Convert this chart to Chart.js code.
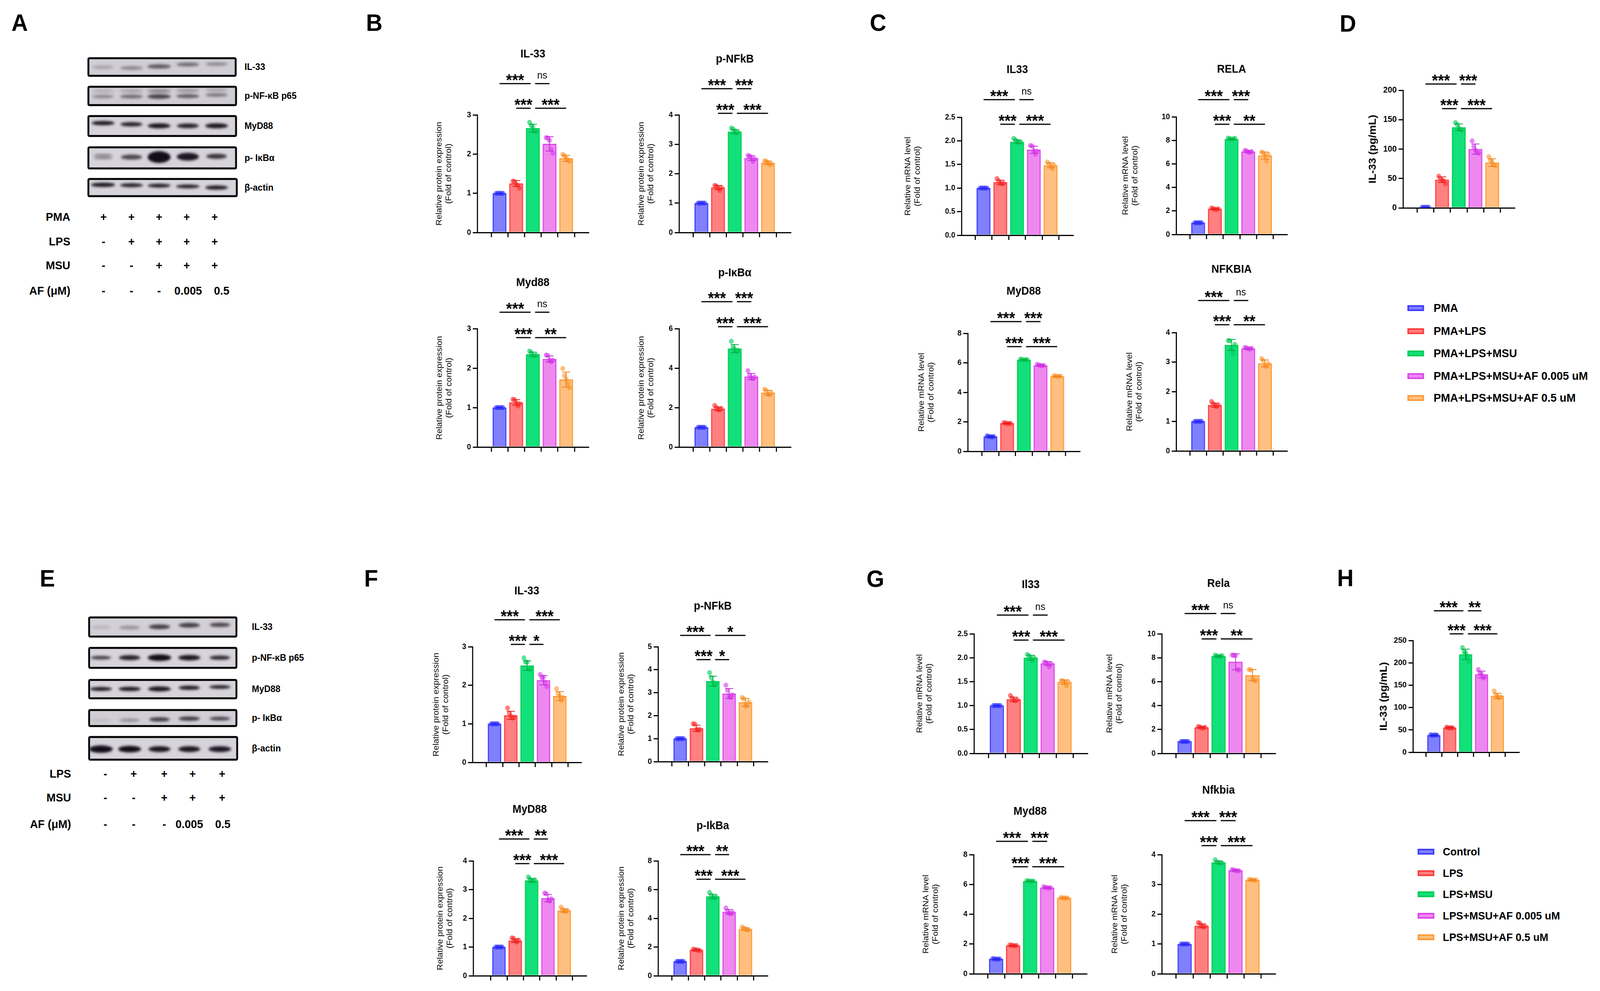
<!DOCTYPE html>
<html><head><meta charset="utf-8">
<script src="https://cdn.jsdelivr.net/npm/chart.js@4.4.1/dist/chart.umd.min.js"></script>
<style>
html,body{margin:0;padding:0;background:#fff;overflow:hidden;}
#root{position:absolute;left:0;top:0;width:4345px;height:2536px;overflow:hidden;background:#fff;font-family:"Liberation Sans",Arial,Helvetica,sans-serif;transform-origin:0 0;}
.t{position:absolute;white-space:nowrap;color:#000;line-height:1;}
canvas{position:absolute;}
.sw{position:absolute;box-sizing:border-box;width:45px;height:15px;border:4px solid;}
</style></head><body><div id="root"></div>
<script>
// ---------------- DATA ----------------
const GROUPS_TOP = ['PMA','PMA+LPS','PMA+LPS+MSU','PMA+LPS+MSU+AF 0.005 uM','PMA+LPS+MSU+AF 0.5 uM'];
const GROUPS_BOTTOM = ['Control','LPS','LPS+MSU','LPS+MSU+AF 0.005 uM','LPS+MSU+AF 0.5 uM'];

// Panel B (protein, PMA cells)
const B_IL33_bars = [1.0, 1.25, 2.66, 2.26, 1.89];
const B_IL33_pts = [[1,1,1,1,1],[1.31,1.30,1.23,1.20,1.13],[2.81,2.73,2.69,2.59,2.57],[2.42,2.41,2.35,2.12,2.02],[1.99,1.96,1.89,1.85,1.81]];
const B_IL33_ticks = [0,1,2,3];
const B_IL33_sig = [[0,2,'***',0],[2,3,'ns',0],[1,2,'***',1],[2,4,'***',1]];

const B_NFKB_bars = [1.0, 1.53, 3.43, 2.53, 2.37];
const B_NFKB_pts = [[1,1,1,1,1],[1.60,1.58,1.51,1.43,1.53],[3.55,3.52,3.45,3.38,3.42],[2.62,2.60,2.55,2.42,2.50],[2.44,2.42,2.38,2.30,2.33]];
const B_NFKB_ticks = [0,1,2,3,4];
const B_NFKB_sig = [[0,2,'***',0],[2,3,'***',0],[1,2,'***',1],[2,4,'***',1]];

const B_MYD_bars = [1.0, 1.13, 2.35, 2.23, 1.71];
const B_MYD_pts = [[1,1,1,1,1],[1.21,1.20,1.12,1.04,1.10],[2.43,2.40,2.32,2.31,2.33],[2.33,2.32,2.20,2.16,2.20],[1.99,1.81,1.72,1.60,1.50]];
const B_MYD_ticks = [0,1,2,3];
const B_MYD_sig = [[0,2,'***',0],[2,3,'ns',0],[1,2,'***',1],[2,4,'**',1]];

const B_IKB_bars = [1.0, 1.94, 4.99, 3.57, 2.75];
const B_IKB_pts = [[1,1,1,1,1],[2.11,2.00,1.90,1.88,1.95],[5.36,5.06,4.96,4.84,4.90],[3.87,3.62,3.50,3.47,3.55],[2.93,2.86,2.68,2.65,2.75]];
const B_IKB_ticks = [0,2,4,6];
const B_IKB_sig = [[0,2,'***',0],[2,3,'***',0],[1,2,'***',1],[2,4,'***',1]];

// Panel C (mRNA, PMA cells)
const C_IL33_bars = [1.0, 1.12, 1.98, 1.81, 1.48];
const C_IL33_pts = [[1,1,1,1,1],[1.20,1.15,1.10,1.09,1.10],[2.05,2.02,1.99,1.96,1.98],[1.90,1.89,1.79,1.72,1.78],[1.55,1.51,1.46,1.41,1.48]];
const C_IL33_ticks = [0,0.5,1.0,1.5,2.0,2.5];
const C_IL33_sig = [[0,2,'***',0],[2,3,'ns',0],[1,2,'***',1],[2,4,'***',1]];

const C_RELA_bars = [1.0, 2.17, 8.10, 7.05, 6.70];
const C_RELA_pts = [[1,1,1,1,1],[2.25,2.20,2.15,2.12,2.18],[8.20,8.15,8.10,8.12,8.18],[7.15,7.10,7.00,6.98,7.05],[7.00,6.95,6.70,6.25,6.80]];
const C_RELA_ticks = [0,2,4,6,8,10];
const C_RELA_sig = [[0,2,'***',0],[2,3,'***',0],[1,2,'***',1],[2,4,'**',1]];

const C_MYD_bars = [1.0, 1.90, 6.20, 5.82, 5.08];
const C_MYD_pts = [[1.05,1.0,1.0,0.98,1.0],[1.95,1.92,1.90,1.88,1.90],[6.25,6.22,6.20,6.20,6.22],[5.90,5.85,5.82,5.80,5.82],[5.12,5.10,5.08,5.08,5.10]];
const C_MYD_ticks = [0,2,4,6,8];
const C_MYD_sig = [[0,2,'***',0],[2,3,'***',0],[1,2,'***',1],[2,4,'***',1]];

const C_NFKBIA_bars = [1.0, 1.55, 3.58, 3.46, 2.96];
const C_NFKBIA_pts = [[1,1,1,1,1],[1.67,1.60,1.53,1.50,1.55],[3.73,3.72,3.45,3.30,3.60],[3.50,3.48,3.46,3.44,3.47],[3.12,3.05,2.88,2.85,2.95]];
const C_NFKBIA_ticks = [0,1,2,3,4];
const C_NFKBIA_sig = [[0,2,'***',0],[2,3,'ns',0],[1,2,'***',1],[2,4,'**',1]];

// Panel D (ELISA, PMA cells)
const D_bars = [1, 48, 137, 100, 77];
const D_pts = [[1,1,1,1,1],[54,50,47,46,41],[145,142,136,133,132],[114,104,98,94,93],[87,81,78,73,71]];
const D_ticks = [0,50,100,150,200];
const D_sig = [[0,2,'***',0],[2,3,'***',0],[1,2,'***',1],[2,4,'***',1]];

// Panel F (protein, second cell model)
const F_IL33_bars = [1.0, 1.22, 2.51, 2.13, 1.72];
const F_IL33_pts = [[1,1,1,1,1],[1.41,1.28,1.20,1.15,1.17],[2.71,2.60,2.60,2.44,2.42],[2.28,2.19,2.21,2.08,1.97],[1.91,1.78,1.72,1.61,1.68]];
const F_IL33_ticks = [0,1,2,3];
const F_IL33_sig = [[0,2,'***',0],[2,4,'***',0],[1,2,'***',1],[2,3,'*',1]];

const F_NFKB_bars = [1.0, 1.45, 3.50, 2.96, 2.58];
const F_NFKB_pts = [[1,1,1,1,1],[1.65,1.63,1.40,1.37,1.40],[3.87,3.66,3.47,3.34,3.40],[3.33,3.10,2.85,2.80,2.90],[2.79,2.73,2.43,2.42,2.60]];
const F_NFKB_ticks = [0,1,2,3,4,5];
const F_NFKB_sig = [[0,2,'***',0],[2,4,'*',0],[1,2,'***',1],[2,3,'*',1]];

const F_MYD_bars = [1.0, 1.22, 3.32, 2.70, 2.27];
const F_MYD_pts = [[1,1,1,1,1],[1.32,1.30,1.22,1.17,1.24],[3.44,3.37,3.32,3.29,3.34],[2.88,2.85,2.64,2.60,2.68],[2.39,2.31,2.26,2.24,2.27]];
const F_MYD_ticks = [0,1,2,3,4];
const F_MYD_sig = [[0,2,'***',0],[2,3,'**',0],[1,2,'***',1],[2,4,'***',1]];

const F_IKB_bars = [1.0, 1.80, 5.52, 4.45, 3.25];
const F_IKB_pts = [[1,1,1,1,1],[1.85,1.82,1.80,1.78,1.75],[5.80,5.60,5.45,5.42,5.50],[4.72,4.50,4.35,4.32,4.40],[3.40,3.30,3.25,3.20,3.20]];
const F_IKB_ticks = [0,2,4,6,8];
const F_IKB_sig = [[0,2,'***',0],[2,3,'**',0],[1,2,'***',1],[2,4,'***',1]];

// Panel G (mRNA, second cell model)
const G_IL33_bars = [1.0, 1.13, 2.00, 1.88, 1.49];
const G_IL33_pts = [[1,1,1,1,1],[1.21,1.16,1.11,1.10,1.12],[2.07,2.04,1.99,1.94,2.00],[1.91,1.90,1.87,1.81,1.88],[1.52,1.52,1.49,1.41,1.50]];
const G_IL33_ticks = [0,0.5,1.0,1.5,2.0,2.5];
const G_IL33_sig = [[0,2,'***',0],[2,3,'ns',0],[1,2,'***',1],[2,4,'***',1]];

const G_RELA_bars = [1.0, 2.17, 8.13, 7.66, 6.54];
const G_RELA_pts = [[1,1,1,1,1],[2.25,2.20,2.15,2.12,2.18],[8.22,8.15,8.10,8.12,8.18],[8.22,8.20,8.18,7.00,6.98],[7.02,6.98,6.30,6.07,6.10]];
const G_RELA_ticks = [0,2,4,6,8,10];
const G_RELA_sig = [[0,2,'***',0],[2,3,'ns',0],[1,2,'***',1],[2,4,'**',1]];

const G_MYD_bars = [1.0, 1.90, 6.22, 5.78, 5.09];
const G_MYD_pts = [[1.02,1.0,1.0,0.98,1.0],[1.94,1.92,1.90,1.88,1.90],[6.25,6.23,6.22,6.21,6.22],[5.85,5.80,5.78,5.76,5.78],[5.11,5.10,5.09,5.08,5.09]];
const G_MYD_ticks = [0,2,4,6,8];
const G_MYD_sig = [[0,2,'***',0],[2,3,'***',0],[1,2,'***',1],[2,4,'***',1]];

const G_NFKBIA_bars = [1.0, 1.61, 3.74, 3.47, 3.15];
const G_NFKBIA_pts = [[1,1,1,1,1],[1.72,1.70,1.62,1.57,1.60],[3.83,3.74,3.73,3.72,3.72],[3.50,3.48,3.47,3.45,3.46],[3.17,3.16,3.15,3.14,3.15]];
const G_NFKBIA_ticks = [0,1,2,3,4];
const G_NFKBIA_sig = [[0,2,'***',0],[2,3,'***',0],[1,2,'***',1],[2,4,'***',1]];

// Panel H (ELISA, second cell model)
const H_bars = [38, 55, 219, 174, 126];
const H_pts = [[39,38,38,39,38],[56,55,54,55,54],[234,225,222,215,203],[185,176,175,166,168],[137,128,124,122,124]];
const H_ticks = [0,50,100,150,200,250];
const H_sig = [[0,2,'***',0],[2,3,'**',0],[1,2,'***',1],[2,4,'***',1]];

// Western blot treatment tables
const A_ROWS = [['PMA',['+','+','+','+','+']],['LPS',['-','+','+','+','+']],['MSU',['-','-','+','+','+']],['AF (μM)',['-','-','-','0.005','0.5']]];
const E_ROWS = [['LPS',['-','+','+','+','+']],['MSU',['-','-','+','+','+']],['AF (μM)',['-','-','-','0.005','0.5']]];
const BLOT_LABELS = ['IL-33','p-NF-κB p65','MyD88','p- IκBα','β-actin'];
// band intensities per lane
const A_BAND = [[0.22,0.35,0.6,0.5,0.35],[0.35,0.5,0.72,0.6,0.45],[0.95,0.9,0.95,0.9,0.95],[0.35,0.7,1,0.95,0.8],[0.95,0.92,0.92,0.9,0.92]];
const E_BAND = [[0.12,0.3,0.75,0.75,0.7],[0.75,0.9,1,0.95,0.85],[0.95,0.95,0.95,0.92,0.92],[0.08,0.3,0.75,0.75,0.7],[1,1,0.95,0.95,0.95]];

// ---------------- STYLE ----------------
const FILL = ['#8080ff','#ff8080','#12e07a','#ee88ee','#ffbf80'];
const LINE = ['#3c3cff','#ff3c3c','#00cc55','#dc46ec','#ff9a33'];
const DOT  = ['rgba(50,50,255,0.62)','rgba(255,45,45,0.62)','rgba(0,205,85,0.62)','rgba(218,60,236,0.62)','rgba(255,150,45,0.62)'];
const ERR  = ['#2020e0','#e02020','#00a844','#c030d8','#e88020'];
const JIT = [-0.2,-0.1,0,0.1,0.2];
const FONT = '"Liberation Sans", Arial, Helvetica, sans-serif';
Chart.defaults.font.family = FONT;

const root = document.getElementById('root');
const PROT = ['Relative protein expression','(Fold of control)'];
const MRNA = ['Relative mRNA level','(Fold of control)'];

const LAYOUTS = {
 b1:{title:'IL-33', bars:B_IL33_bars, pts:B_IL33_pts, ticks:B_IL33_ticks, sig:B_IL33_sig, yTitle:PROT, ax:1296, c0:1334, sp:56.5, xEnd:1598, zeroY:595, topY:294, titleY:139, sigY:[214,277], ytX:1193},
 b2:{title:'p-NFkB', bars:B_NFKB_bars, pts:B_NFKB_pts, ticks:B_NFKB_ticks, sig:B_NFKB_sig, yTitle:PROT, ax:1844, c0:1882, sp:56.5, xEnd:2147, zeroY:595, topY:294, titleY:152, sigY:[227,290], ytX:1742},
 b3:{title:'Myd88', bars:B_MYD_bars, pts:B_MYD_pts, ticks:B_MYD_ticks, sig:B_MYD_sig, yTitle:PROT, ax:1296, c0:1334, sp:56.5, xEnd:1598, zeroY:1144, topY:841, titleY:724, sigY:[799,864], ytX:1194},
 b4:{title:'p-IκBα', bars:B_IKB_bars, pts:B_IKB_pts, ticks:B_IKB_ticks, sig:B_IKB_sig, yTitle:PROT, ax:1844, c0:1882, sp:56.5, xEnd:2147, zeroY:1144, topY:841, titleY:699, sigY:[772,836], ytX:1742},
 c1:{title:'IL33', bars:C_IL33_bars, pts:C_IL33_pts, ticks:C_IL33_ticks, sig:C_IL33_sig, dec:1, yTitle:MRNA, ax:2611, c0:2648, sp:56.9, xEnd:2914, zeroY:602, topY:300, titleY:179, sigY:[255,318], ytX:2466},
 c2:{title:'RELA', bars:C_RELA_bars, pts:C_RELA_pts, ticks:C_RELA_ticks, sig:C_RELA_sig, yTitle:MRNA, ax:3194, c0:3231, sp:56.7, xEnd:3495, zeroY:600, topY:299, titleY:178, sigY:[255,318], ytX:3057},
 c3:{title:'MyD88', bars:C_MYD_bars, pts:C_MYD_pts, ticks:C_MYD_ticks, sig:C_MYD_sig, yTitle:MRNA, ax:2628, c0:2667, sp:56.7, xEnd:2932, zeroY:1155, topY:853, titleY:746, sigY:[823,887], ytX:2503},
 c4:{title:'NFKBIA', bars:C_NFKBIA_bars, pts:C_NFKBIA_pts, ticks:C_NFKBIA_ticks, sig:C_NFKBIA_sig, yTitle:MRNA, ax:3194, c0:3231, sp:56.7, xEnd:3495, zeroY:1154, topY:851, titleY:690, sigY:[769,831], ytX:3068},
 d:{title:'', bars:D_bars, pts:D_pts, ticks:D_ticks, sig:D_sig, yTitle:['IL-33 (pg/mL)'], ytBold:true, tickSize:22, ax:3810, c0:3848, sp:56.7, xEnd:4113, zeroY:532, topY:231, titleY:null, sigY:[215,278], ytX:3728},
 f1:{title:'IL-33', bars:F_IL33_bars, pts:F_IL33_pts, ticks:F_IL33_ticks, sig:F_IL33_sig, yTitle:PROT, ax:1283, c0:1321, sp:55.4, xEnd:1578, zeroY:1951, topY:1655, titleY:1513, sigY:[1586,1649], ytX:1185},
 f2:{title:'p-NFkB', bars:F_NFKB_bars, pts:F_NFKB_pts, ticks:F_NFKB_ticks, sig:F_NFKB_sig, yTitle:PROT, ax:1787, c0:1825, sp:55.4, xEnd:2084, zeroY:1949, topY:1655, titleY:1552, sigY:[1626,1688], ytX:1688},
 f3:{title:'MyD88', bars:F_MYD_bars, pts:F_MYD_pts, ticks:F_MYD_ticks, sig:F_MYD_sig, yTitle:PROT, ax:1285, c0:1334, sp:55.4, xEnd:1592, zeroY:2497, topY:2203, titleY:2072, sigY:[2147,2210], ytX:1196},
 f4:{title:'p-IkBa', bars:F_IKB_bars, pts:F_IKB_pts, ticks:F_IKB_ticks, sig:F_IKB_sig, yTitle:PROT, ax:1787, c0:1825, sp:55.4, xEnd:2084, zeroY:2497, topY:2203, titleY:2114, sigY:[2187,2250], ytX:1688},
 g1:{title:'Il33', bars:G_IL33_bars, pts:G_IL33_pts, ticks:G_IL33_ticks, sig:G_IL33_sig, dec:1, yTitle:MRNA, ax:2645, c0:2684, sp:57.5, xEnd:2953, zeroY:1928, topY:1622, titleY:1497, sigY:[1574,1638], ytX:2498},
 g2:{title:'Rela', bars:G_RELA_bars, pts:G_RELA_pts, ticks:G_RELA_ticks, sig:G_RELA_sig, yTitle:MRNA, ax:3155, c0:3194, sp:57.6, xEnd:3463, zeroY:1928, topY:1622, titleY:1494, sigY:[1570,1635], ytX:3014},
 g3:{title:'Myd88', bars:G_MYD_bars, pts:G_MYD_pts, ticks:G_MYD_ticks, sig:G_MYD_sig, yTitle:MRNA, ax:2644, c0:2682, sp:57.7, xEnd:2951, zeroY:2492, topY:2187, titleY:2077, sigY:[2153,2218], ytX:2515},
 g4:{title:'Nfkbia', bars:G_NFKBIA_bars, pts:G_NFKBIA_pts, ticks:G_NFKBIA_ticks, sig:G_NFKBIA_sig, yTitle:MRNA, ax:3155, c0:3194, sp:57.6, xEnd:3463, zeroY:2492, topY:2187, titleY:2023, sigY:[2100,2164], ytX:3028},
 h:{title:'', bars:H_bars, pts:H_pts, ticks:H_ticks, sig:H_sig, yTitle:['IL-33 (pg/mL)'], ytBold:true, tickSize:21, ax:3837, c0:3872, sp:53.9, xEnd:4125, zeroY:1925, topY:1639, titleY:null, sigY:[1563,1622], ytX:3758}
};

function sdOf(a){const m=a.reduce((s,v)=>s+v,0)/a.length;return Math.sqrt(a.reduce((s,v)=>s+(v-m)*(v-m),0)/(a.length-1));}

const extras = {
  id:'extras',
  afterDatasetsDraw(chart, args, o){
    const L = LAYOUTS[o.key]; if(!L) return;
    const ctx = chart.ctx, xs = chart.scales.x, ys = chart.scales.y;
    ctx.save();
    L.pts.forEach((arr,i)=>{
      const m = L.bars[i], sd = sdOf(arr);
      const x = xs.getPixelForValue(i);
      const y1 = ys.getPixelForValue(m+sd), y2 = ys.getPixelForValue(Math.max(0,m-sd));
      ctx.strokeStyle = ERR[i]; ctx.lineWidth = 2;
      ctx.beginPath();
      ctx.moveTo(x,y1); ctx.lineTo(x,y2);
      ctx.moveTo(x-11,y1); ctx.lineTo(x+11,y1);
      ctx.moveTo(x-11,y2); ctx.lineTo(x+11,y2);
      ctx.stroke();
    });
    ctx.restore();
  },
  afterDraw(chart, args, o){
    const L = LAYOUTS[o.key]; if(!L) return;
    const ctx = chart.ctx, xs = chart.scales.x;
    ctx.save();
    L.sig.forEach(([a,b,txt,row])=>{
      const y = L.sigY[row] - o.ct;
      const x1 = xs.getPixelForValue(a) + (a===2?6:0);
      const x2 = xs.getPixelForValue(b) - (b===2?6:0);
      ctx.strokeStyle='#000'; ctx.lineWidth=3;
      ctx.beginPath(); ctx.moveTo(x1,y); ctx.lineTo(x2,y); ctx.stroke();
      ctx.fillStyle='#000'; ctx.textAlign='center'; ctx.textBaseline='alphabetic';
      if(txt==='ns'){ ctx.font='26px '+FONT; ctx.fillText(txt,(x1+x2)/2,y-13); }
      else { ctx.font='bold 42px '+FONT; ctx.fillText(txt,(x1+x2)/2,y+5); }
    });
    ctx.restore();
  }
};
Chart.register(extras);

function makeChart(key){
  const L = LAYOUTS[key];
  const yW = 175, xH = 40, padR = 14;
  const cl = L.ax - yW;
  const ct = Math.min(L.titleY==null?1e9:L.titleY, L.sigY[0]) - 48;
  const cw = Math.round(L.xEnd - cl + padR);
  const ch = Math.round(L.zeroY - ct + xH);
  const cv = document.createElement('canvas');
  cv.width = cw; cv.height = ch;
  cv.style.left = cl+'px'; cv.style.top = ct+'px'; cv.style.width = cw+'px'; cv.style.height = ch+'px';
  root.appendChild(cv);
  const lh = 29*1.2;
  const tPt = L.titleY!=null ? (L.titleY - ct) - lh/2 : 0;
  const tPb = L.titleY!=null ? (L.topY - ct) - tPt - lh : 0;
  const ytFont = L.ytBold ? {size:28, weight:'bold', lineHeight:1.2} : {size:22, weight:'normal', lineHeight:1.2};
  const ytPad = L.ytX - cl - ytFont.size*ytFont.lineHeight/2;
  const tk = L.ticks, step = tk[1]-tk[0];
  const xMin = -(L.c0 - L.ax)/L.sp;
  const xMax = 4 + (L.xEnd - (L.c0 + 4*L.sp))/L.sp;
  const barData = L.bars.map((v,i)=>({x:i,y:v}));
  const ptData = [], ptCol = [];
  L.pts.forEach((arr,i)=>arr.forEach((v,j)=>{ptData.push({x:i+JIT[j],y:v}); ptCol.push(DOT[i]);}));
  new Chart(cv, {
    type:'bar',
    data:{datasets:[
      {type:'scatter', data:ptData, backgroundColor:ptCol, borderWidth:0, pointRadius:6.5, pointHoverRadius:6.5, order:0},
      {type:'bar', data:barData, backgroundColor:FILL, borderColor:LINE, borderWidth:3, barThickness:Math.round(L.sp*0.655), order:1}
    ]},
    options:{
      responsive:false, animation:false, devicePixelRatio:1,
      layout:{padding:{left:0, right:padR, top:L.titleY!=null?0:(L.topY-ct), bottom:0}},
      plugins:{
        legend:{display:false}, tooltip:{enabled:false},
        title:{display:L.titleY!=null, text:L.title, fullSize:false, color:'#000', font:{size:29, weight:'bold', lineHeight:1.2}, padding:{top:tPt, bottom:tPb}},
        extras:{key:key, ct:ct}
      },
      scales:{
        x:{type:'linear', min:xMin, max:xMax, afterFit:s=>{s.height=xH;},
           grid:{display:true, drawOnChartArea:false, drawTicks:true, tickLength:12, color:'#000', lineWidth:3},
           border:{display:true, color:'#000', width:3},
           ticks:{display:false, stepSize:1, includeBounds:false}},
        y:{type:'linear', min:tk[0], max:tk[tk.length-1], afterFit:s=>{s.width=yW;},
           grid:{display:true, drawOnChartArea:false, drawTicks:true, tickLength:12, color:'#000', lineWidth:3},
           border:{display:true, color:'#000', width:3},
           ticks:{stepSize:step, color:'#000', font:{size:L.tickSize||20, weight:'bold'}, padding:5, callback:v=>Number(v).toFixed(L.dec||0)},
           title:{display:true, text:L.yTitle, color:'#000', font:ytFont, padding:{top:ytPad, bottom:0}}}
      }
    }
  });
}
Object.keys(LAYOUTS).forEach(makeChart);

// ---------------- TEXT HELPERS ----------------
function txt(s, x, y, font, align){
  const d = document.createElement('div'); d.className='t'; d.textContent = s;
  d.style.left = x+'px'; d.style.top = y+'px'; d.style.font = font; d.style.lineHeight='1';
  const tx = align==='right' ? '-100%' : (align==='center' ? '-50%' : '0');
  d.style.transform = `translate(${tx},-50%)`;
  root.appendChild(d);
  return d;
}
[['A',31,58],['B',994,58],['C',2362,58],['D',3638,60],['E',108,1480],['F',989,1480],['G',2353,1481],['H',3631,1479]]
  .forEach(([s,x,y])=>txt(s,x,y,'bold 62px '+FONT,'left'));

function table(rows, rowY, labelX, colX){
  rows.forEach((r,i)=>{
    txt(r[0], labelX, rowY[i], 'bold 30px '+FONT, 'right');
    r[1].forEach((v,j)=>txt(v, colX[i][j], rowY[i], 'bold 30px '+FONT, 'center'));
  });
}
const aCols = [281,357,432,507,583];
table(A_ROWS, [555,618,679,744], 191, [aCols,aCols,aCols,[281,357,432,511,602]]);
const eCols = [286,363,446,523,603];
table(E_ROWS, [1980,2041,2109], 193, [eCols,eCols,[286,363,446,514,605]]);

[171,245,322,404,480].forEach((y,i)=>txt(BLOT_LABELS[i], 664, y, 'bold 24px '+FONT, 'left'));
[1604,1683,1763,1837,1915].forEach((y,i)=>txt(BLOT_LABELS[i], 684, y, 'bold 24px '+FONT, 'left'));

function legend(groups, swX, txX, ys, fs){
  groups.forEach((g,i)=>{
    const s = document.createElement('div'); s.className='sw';
    s.style.left = swX+'px'; s.style.top = (ys[i]-7)+'px';
    s.style.background = FILL[i]; s.style.borderColor = LINE[i];
    root.appendChild(s);
    txt(g, txX, ys[i], 'bold '+fs+'px '+FONT, 'left');
  });
}
legend(GROUPS_TOP, 3822, 3893, [788,847,904,962,1018], 30);
legend(GROUPS_BOTTOM, 3850, 3918, [2179,2234,2288,2343,2398], 28.5);

// ---------------- WESTERN BLOTS ----------------
function blotPanel(ox, oy, w, h, boxes, lanes, inten){
  const cv = document.createElement('canvas'); cv.width=w; cv.height=h;
  cv.style.left=ox+'px'; cv.style.top=oy+'px'; cv.style.width=w+'px'; cv.style.height=h+'px';
  root.appendChild(cv);
  const ctx = cv.getContext('2d');
  boxes.forEach((b,bi)=>{
    const x=b.x-ox, y=b.y-oy;
    ctx.save();
    ctx.beginPath(); ctx.rect(x,y,b.w,b.h); ctx.clip();
    ctx.fillStyle = b.bg || '#d6d3da'; ctx.fillRect(x,y,b.w,b.h);
    ctx.filter = 'blur(3px)';
    b.bands.forEach((bd,li)=>{
      const a = inten[bi][li];
      (Array.isArray(bd[0])?bd:[bd]).forEach(q=>{
        const [by,bw,bh,f] = q;
        ctx.fillStyle = `rgba(18,12,24,${Math.min(1,a*(f||1))})`;
        ctx.beginPath(); ctx.ellipse(lanes[li]-ox, by-oy, bw/2, bh/2, 0, 0, Math.PI*2); ctx.fill();
      });
    });
    ctx.restore();
    ctx.save(); ctx.strokeStyle='#000'; ctx.lineWidth=5;
    ctx.beginPath(); ctx.roundRect(x+2,y+2,b.w-4,b.h-4,3); ctx.stroke(); ctx.restore();
  });
}
const A_LANES = [280,357,432,510,588];
blotPanel(220,130,460,390,[
  {x:238,y:147,w:404,h:49,bg:'#d0cdd5',bands:[[172,58,9],[174,62,10],[170,64,11],[165,62,10],[164,60,9]]},
  {x:238,y:220,w:405,h:51,bg:'#cfccd4',bands:[[[233,58,8,0.45],[247,58,9]],[[233,62,8,0.45],[247,62,10]],[[233,64,9,0.5],[247,64,12]],[[232,62,8,0.5],[246,62,10]],[[230,60,8,0.5],[243,60,9]]]},
  {x:238,y:295,w:405,h:55,bands:[[315,62,11],[318,60,11],[322,62,13],[322,60,12],[322,62,13]]},
  {x:238,y:375,w:405,h:58,bands:[[[397,52,7],[404,52,8]],[402,58,13],[402,62,30],[401,60,20],[400,56,13]]},
  {x:238,y:456,w:407,h:48,bands:[[473,66,11],[474,62,10],[475,62,10],[477,64,10],[480,62,11]]}
], A_LANES, A_BAND);
const E_LANES = [274,352,433,514,597];
blotPanel(220,1560,460,400,[
  {x:240,y:1578,w:404,h:53,bg:'#d2cfd6',bands:[[1605,54,9],[1606,56,10],[1604,58,12],[1600,58,12],[1599,56,11]]},
  {x:240,y:1656,w:404,h:55,bands:[[1683,56,9],[1683,58,13],[1683,64,17],[1683,60,14],[1683,56,11]]},
  {x:240,y:1738,w:404,h:51,bands:[[1763,60,10],[1763,60,11],[1763,62,13],[1760,58,11],[1758,58,9]]},
  {x:240,y:1815,w:404,h:45,bg:'#d0cdd5',bands:[[1843,54,8],[1843,56,9],[1841,56,11],[1839,58,11],[1839,56,10]]},
  {x:240,y:1884,w:406,h:62,bands:[[1917,64,19],[1917,62,17],[1917,60,15],[1917,60,15],[1917,62,15]]}
], E_LANES, E_BAND);

// fit the 4345x2536 figure into the actual viewport
(function fit(){
  const sx = window.innerWidth/4345, sy = window.innerHeight/2536;
  if (Math.abs(sx-1)>0.002 || Math.abs(sy-1)>0.002) root.style.transform = `scale(${sx},${sy})`;
})();
</script></body></html>
